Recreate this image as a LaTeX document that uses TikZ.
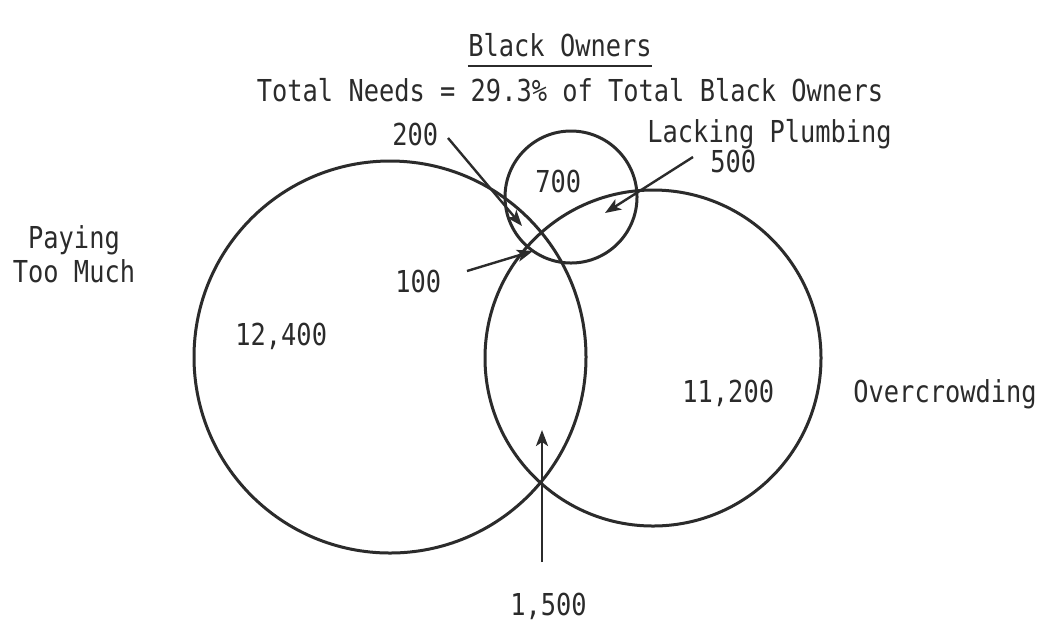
\documentclass[tikz,border=0pt]{standalone}
\usepackage{fontspec}
\newfontfamily\tw{DejaVu Sans Mono}[FakeStretch=0.84]
\usetikzlibrary{arrows.meta}
\definecolor{ink}{HTML}{2B2B2B}
\begin{document}
\begin{tikzpicture}[x=0.5pt,y=-0.5pt,
  font=\tw\fontsize{15.1pt}{17pt}\selectfont,
  lbl/.style={text=ink, inner sep=0pt, anchor=base west},
  ring/.style={draw=ink, line width=1.5pt, circle, inner sep=0pt},
  ptr/.style={draw=ink, line width=1.2pt, -{Stealth[length=8pt,width=6pt,inset=2pt]}}]
\useasboundingbox (0,0) rectangle (1052,623);
\fill[white] (0,0) rectangle (1052,623);

% titles
\node[lbl, anchor=base] (title) at (560,56) {Black Owners};
\draw[ink, line width=1pt] ([yshift=-5pt]title.base west) -- ([yshift=-5pt]title.base east);
\node[lbl, anchor=base] (sub) at (570,101) {Total Needs = 29.3\% of Total Black Owners};

% circles
\node[ring, minimum size=196pt] (L) at (390,357) {};
\node[ring, minimum size=168pt] (R) at (653,358) {};
\node[ring, minimum size=66pt] (S) at (571,197) {};

% labels
\node[lbl, anchor=base] (pay) at (74,248) {Paying};
\node[lbl, anchor=base] (too) at (74,282) {Too Much};
\node[lbl] (lack) at (647,142) {Lacking Plumbing};
\node[lbl] (n500) at (710,172) {500};
\node[lbl] (n200) at (392,145) {200};
\node[lbl] (n700) at (535,192) {700};
\node[lbl] (n100) at (395,292) {100};
\node[lbl] (n12400) at (235,345) {12,400};
\node[lbl] (n11200) at (682,402) {11,200};
\node[lbl] (over) at (853,402) {Overcrowding};
\node[lbl] (n1500) at (510,615) {1,500};

% pointers
\coordinate (s200) at (448,138);
\coordinate (t200) at (522,226);
\coordinate (s100) at (467,271);
\coordinate (t100) at (533,251);
\coordinate (s500) at (693,157);
\coordinate (t500) at (605,213);
\coordinate (s1500) at (542,562);
\coordinate (t1500) at (542,430);
\draw[ptr] (s200) -- (t200);
\draw[ptr] (s100) -- (t100);
\draw[ptr] (s500) -- (t500);
\draw[ptr] (s1500) -- (t1500);
\end{tikzpicture}
\end{document}
